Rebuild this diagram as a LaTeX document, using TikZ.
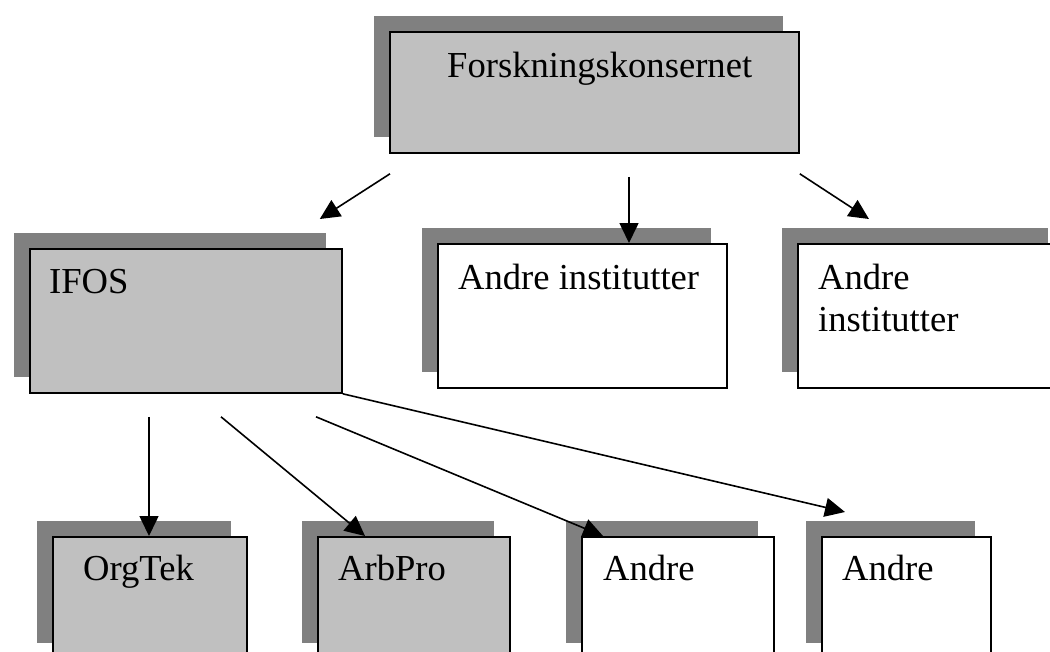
\documentclass[tikz,border=0pt]{standalone}
\usepackage{fontspec}
\setmainfont{Liberation Serif}
\usetikzlibrary{arrows.meta,calc,shadows,positioning}
\definecolor{boxgray}{HTML}{C0C0C0}
\definecolor{shadegray}{HTML}{808080}
\tikzset{
  orgbox/.style={draw, line width=1.8pt, anchor=north west, inner sep=0pt,
    drop shadow={shadow xshift=-16pt, shadow yshift=16pt, draw=none, fill=shadegray, opacity=1}},
  orgtext/.style={anchor=base west, inner sep=0pt, align=left, font=\fontsize{36.6}{42}\selectfont},
  orgarrow/.style={-{Triangle[length=20pt,width=19pt]}, line width=1.6pt}
}
\begin{document}
\begin{tikzpicture}[x=1pt,y=-1pt]
\useasboundingbox (0,0) rectangle (1050,651);
\clip (0,0) rectangle (1050,651);
%top
\node[orgbox, fill=boxgray, minimum width=409pt, minimum height=121pt] (forsk) at (389,31) {};
\node[orgtext] (forsk-t) at ($(forsk.north west)+(58,46)$) {Forskningskonsernet};
%middle row
\node[orgbox, fill=boxgray, minimum width=312pt, minimum height=144pt] (ifos) at (29,248) {};
\node[orgtext] (ifos-t) at ($(ifos.north west)+(20,45)$) {IFOS};
\node[orgbox, fill=white, minimum width=289pt, minimum height=144pt] (andre1) at (437,243) {};
\node[orgtext] (andre1-t) at ($(andre1.north west)+(21,46)$) {Andre institutter};
\node[orgbox, fill=white, minimum width=266pt, minimum height=144pt] (andre2) at (797,243) {};
% base of a two-line node is its last line
\node[orgtext] (andre2-t) at ($(andre2.north west)+(21,88)$) {Andre\\institutter};
%bottom row
\foreach \name/\x/\w/\col/\dx/\txt in {orgtek/52/194/boxgray/31/OrgTek,
    arbpro/317/192/boxgray/21/ArbPro, andre3/581/192/white/22/Andre,
    andre4/821/169/white/21/Andre} {
  \node[orgbox, fill=\col, minimum width=\w pt, minimum height=122pt] (\name) at (\x,536) {};
  \node[orgtext] (\name-t) at ($(\name.north west)+(\dx,44)$) {\txt};
}
%arrows from the top
\draw[orgarrow] ($(forsk.south west)+(1,20)$) -- ($(ifos.north east)+(-23,-29)$);
\draw[orgarrow] ($(forsk.south west)+(240,23)$) -- ($(andre1.north west)+(192,0)$);
\draw[orgarrow] ($(forsk.south east)+(0,20)$) -- ($(andre2.north west)+(72,-24)$);
%arrows from IFOS
\draw[orgarrow] ($(ifos.south west)+(120,23)$) -- ($(orgtek.north west)+(97,0)$);
\draw[orgarrow] ($(ifos.south west)+(192,23)$) -- ($(arbpro.north west)+(48,0)$);
\draw[orgarrow] ($(ifos.south west)+(287,23)$) -- ($(andre3.north west)+(22,0)$);
\draw[orgarrow] (ifos.south east) -- ($(andre4.north west)+(24,-24)$);
\end{tikzpicture}
\end{document}
